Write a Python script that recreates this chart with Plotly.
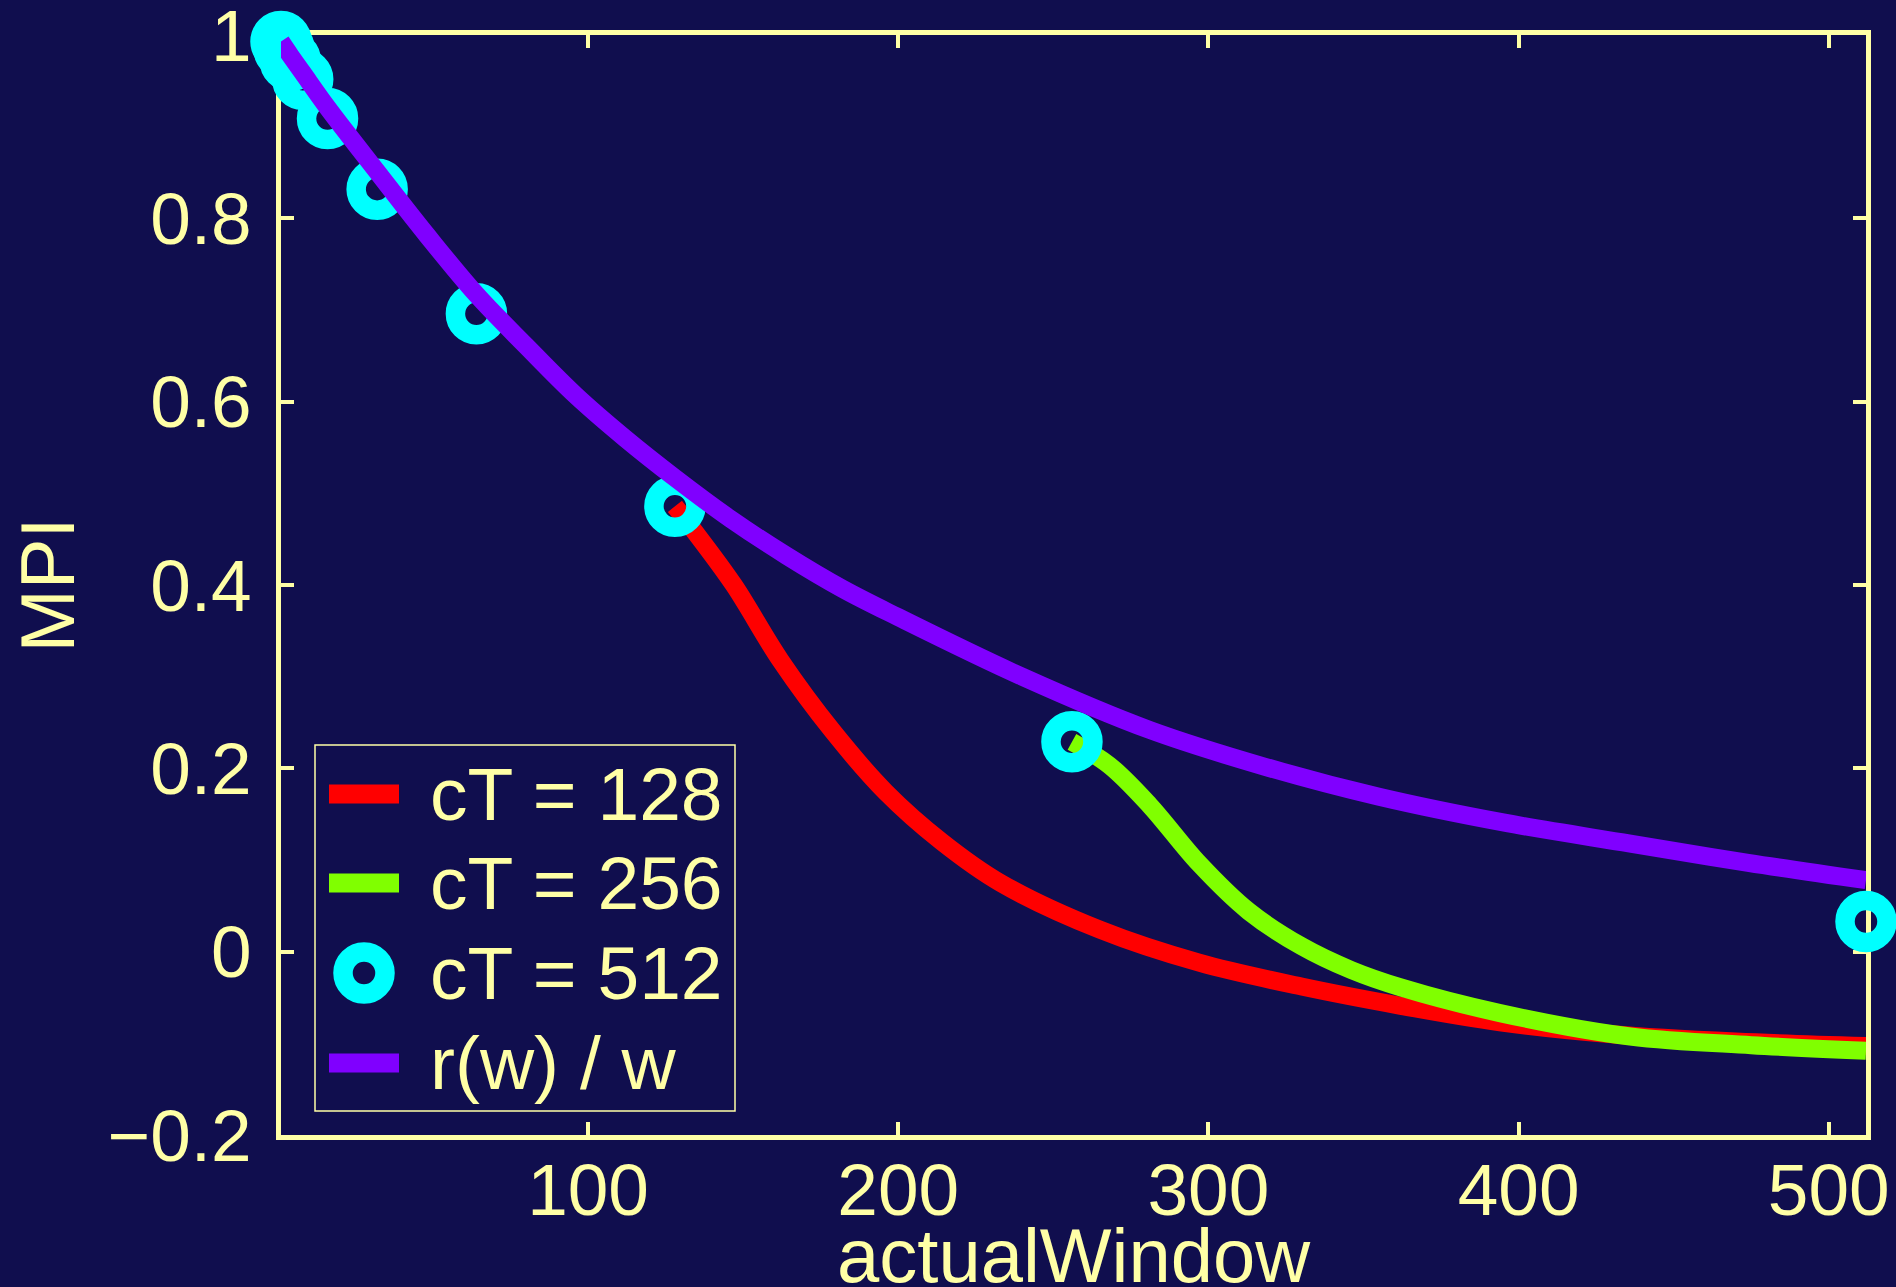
import plotly.graph_objects as go

# ---------------- data ----------------
series_names = ["cT = 128", "cT = 256", "cT = 512", "r(w) / w"]

red_x = [128, 134, 147, 162, 179, 196, 214, 233, 265, 297, 330, 362, 394, 430, 470, 512]
red_y = [0.486, 0.460, 0.400, 0.318, 0.240, 0.174, 0.120, 0.075, 0.024, -0.012, -0.038,
         -0.059, -0.077, -0.090, -0.098, -0.103]

green_x = [256, 268, 281, 297, 313, 330, 346, 362, 394, 436, 475, 512]
green_y = [0.229, 0.2035, 0.160, 0.096, 0.044, 0.006, -0.020, -0.039, -0.067, -0.0925,
           -0.102, -0.108]

cyan_x = [1, 2, 4, 8, 16, 32, 64, 128, 256, 512]
cyan_y = [0.993, 0.985, 0.972, 0.952, 0.909, 0.832, 0.696, 0.486, 0.229, 0.033]

purple_x = [1, 4, 8, 16, 32, 48, 64, 80, 96, 112, 128, 146, 164, 182, 200, 240, 281, 318,
            355, 395, 436, 474, 512]
purple_y = [0.993, 0.978, 0.959, 0.921, 0.851, 0.782, 0.717, 0.661, 0.607, 0.560, 0.517,
            0.472, 0.432, 0.396, 0.365, 0.300, 0.242, 0.202, 0.169, 0.141, 0.118, 0.097, 0.078]

x_tickvals = [100, 200, 300, 400, 500]
x_ticktext = ["100", "200", "300", "400", "500"]
y_tickvals = [-0.2, 0, 0.2, 0.4, 0.6, 0.8, 1]
y_ticktext = ["\u22120.2", "0", "0.2", "0.4", "0.6", "0.8", "1"]
x_title = "actualWindow"
y_title = "MPI"

# ---------------- style ----------------
BG = "#100e4e"
FG = "#ffffa6"
RED = "#ff0000"
GREEN = "#80ff00"
CYAN = "#00ffff"
PURPLE = "#8000ff"
FONT = "Liberation Sans, Arial, sans-serif"
LW = 18

W, H = 1896, 1287
L, R, T, B = 281, 30, 35, 152
PW, PH = W - L - R, H - T - B


def px(xp):
    return (xp - L) / PW


def py(yp):
    return (H - B - yp) / PH


fig = go.Figure()
fig.add_trace(go.Scatter(x=red_x, y=red_y, mode="lines", name=series_names[0],
                         line=dict(color=RED, width=LW, shape="spline", smoothing=1.0),
                         showlegend=False))
fig.add_trace(go.Scatter(x=green_x, y=green_y, mode="lines", name=series_names[1],
                         line=dict(color=GREEN, width=LW, shape="spline", smoothing=1.0),
                         showlegend=False))
fig.add_trace(go.Scatter(x=cyan_x, y=cyan_y, mode="markers", name=series_names[2],
                         marker=dict(symbol="circle-open", size=42, color=CYAN,
                                     line=dict(width=19.5, color=CYAN)),
                         cliponaxis=False, showlegend=False))
fig.add_trace(go.Scatter(x=purple_x, y=purple_y, mode="lines", name=series_names[3],
                         line=dict(color=PURPLE, width=LW, shape="spline", smoothing=1.0),
                         showlegend=False))

axis_common = dict(
    showline=True, linecolor=FG, linewidth=4.5, mirror="ticks",
    ticks="inside", ticklen=13, tickwidth=4, tickcolor=FG,
    showgrid=False, zeroline=False, layer="below traces", automargin=False,
    ticklabeloverflow="allow",
    tickfont=dict(family=FONT, size=73, color=FG),
)

fig.update_layout(
    width=W, height=H,
    margin=dict(l=L, r=R, t=T, b=B, pad=0, autoexpand=False),
    paper_bgcolor=BG, plot_bgcolor=BG,
    font=dict(family=FONT, color=FG),
    xaxis=dict(range=[1, 512], tickvals=x_tickvals, ticktext=x_ticktext,
               ticklabelstandoff=-12, **axis_common),
    yaxis=dict(range=[-0.2, 1.0002], tickvals=y_tickvals, ticktext=y_ticktext,
               ticklabelstandoff=10, **axis_common),
    showlegend=False,
)

# ---------------- axis titles + legend (drawn) ----------------
shapes = []
annotations = []
annotations.append(dict(text=x_title, xref="paper", yref="paper", x=0.5, y=py(1211),
                        xanchor="center", yanchor="top", showarrow=False,
                        font=dict(family=FONT, size=76, color=FG)))
annotations.append(dict(text=y_title, xref="paper", yref="paper", x=px(46.5), y=0.5,
                        xanchor="center", yanchor="middle", showarrow=False, textangle=-90,
                        font=dict(family=FONT, size=76, color=FG)))
shapes.append(dict(type="rect", xref="paper", yref="paper",
                   x0=px(315), x1=px(735), y0=py(1111), y1=py(745),
                   line=dict(color=FG, width=1.5), fillcolor=BG, layer="above"))
entry_y = [794, 883, 973, 1063]
entry_col = [RED, GREEN, CYAN, PURPLE]
for i, (yy, col, name) in enumerate(zip(entry_y, entry_col, series_names)):
    if i == 2:
        shapes.append(dict(type="circle", xref="paper", yref="paper",
                           xsizemode="pixel", ysizemode="pixel",
                           xanchor=px(364), yanchor=py(yy),
                           x0=-21, x1=21, y0=-21, y1=21,
                           line=dict(color=CYAN, width=19.5), fillcolor="rgba(0,0,0,0)",
                           layer="above"))
    else:
        shapes.append(dict(type="line", xref="paper", yref="paper",
                           x0=px(329), x1=px(399), y0=py(yy), y1=py(yy),
                           line=dict(color=col, width=19), layer="above"))
    annotations.append(dict(text=name, xref="paper", yref="paper", x=px(428), y=py(yy),
                            xanchor="left", yanchor="middle", showarrow=False,
                            font=dict(family=FONT, size=75, color=FG)))

fig.update_layout(shapes=shapes, annotations=annotations)

fig.write_html("out.html", config={"displayModeBar": False},
               post_script="document.body.style.margin='0px';")
